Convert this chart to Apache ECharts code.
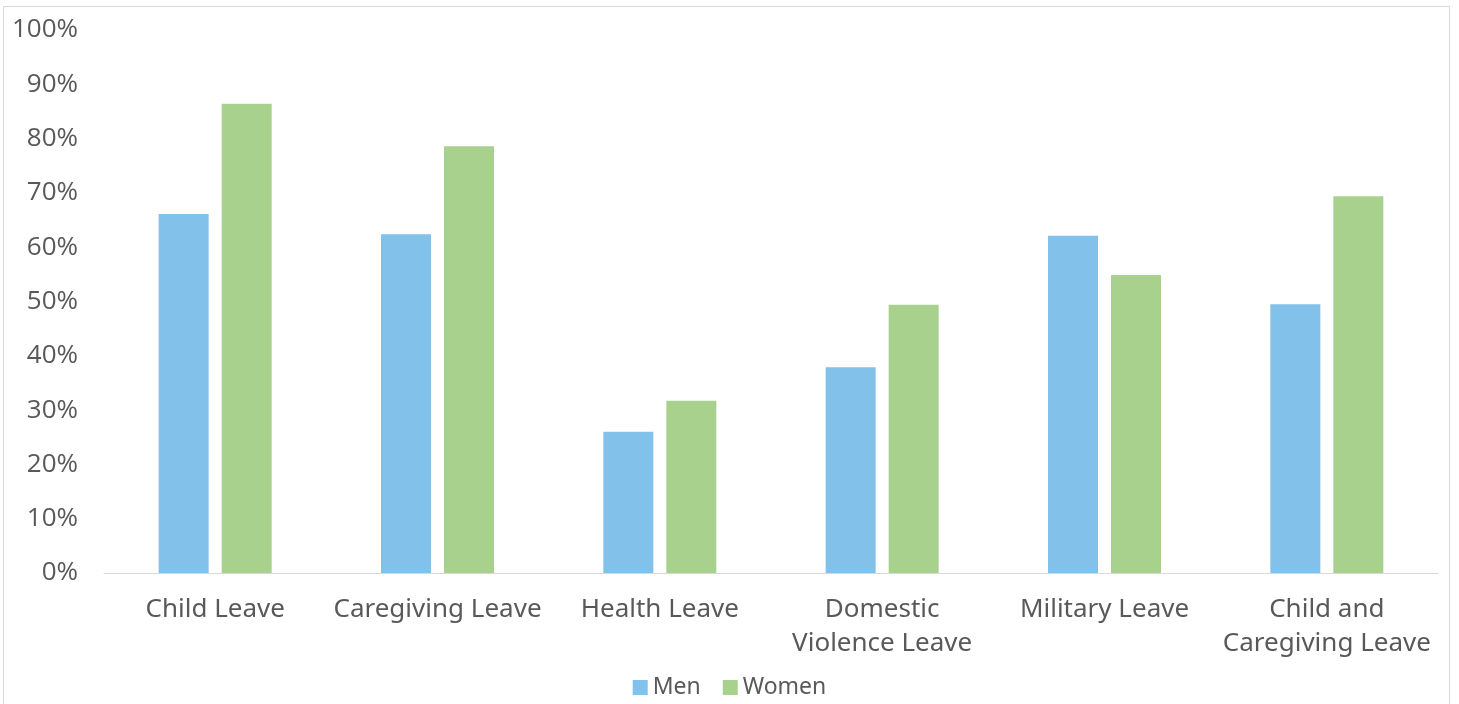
<!DOCTYPE html>
<html>
<head>
<meta charset="utf-8">
<script src="https://cdn.jsdelivr.net/npm/echarts@6/dist/echarts.min.js"></script>
<style>
  html, body { margin: 0; padding: 0; background: #fff; }
  #frame { position: absolute; left: 3px; top: 6px; width: 1447px; height: 710px; border: 1px solid #d9d9d9; box-sizing: border-box; }
  #chart { position: absolute; left: 0; top: 0; width: 1459px; height: 704px; }
</style>
</head>
<body>
<div id="frame"></div>
<div id="chart"></div>
<script>
// Share of respondents, by type of leave
const categories = ['Child Leave', 'Caregiving Leave', 'Health Leave', 'Domestic\nViolence Leave', 'Military Leave', 'Child and\nCaregiving Leave'];
const men   = [66.1, 62.4, 26.0, 37.9, 62.1, 49.5];
const women = [86.4, 78.6, 31.7, 49.4, 54.9, 69.4];
const seriesNames = ['Men', 'Women'];
const colors = ['#82c1ea', '#a9d18e'];

const textColor = '#595959';
const chart = echarts.init(document.getElementById('chart'));
chart.setOption({
  animation: false,
  grid: { left: 104, right: 21, top: 30, bottom: 131 },
  legend: {
    data: seriesNames,
    bottom: 0,
    left: 'center',
    itemWidth: 15,
    itemHeight: 15,
    itemGap: 22,
    icon: 'rect',
    textStyle: { color: textColor, fontSize: 23, fontFamily: 'Noto Sans' }
  },
  xAxis: {
    type: 'category',
    data: categories,
    axisLine: { lineStyle: { color: '#d9d9d9', width: 1 } },
    axisTick: { show: false },
    axisLabel: { color: textColor, fontSize: 26, fontFamily: 'Noto Sans', margin: 20, lineHeight: 34, interval: 0 }
  },
  yAxis: {
    type: 'value',
    min: 0, max: 100, interval: 10,
    splitLine: { show: false },
    axisLine: { show: false },
    axisTick: { show: false },
    axisLabel: { color: textColor, fontSize: 26, fontFamily: 'Open Sans', margin: 26, formatter: '{value}%' }
  },
  series: [
    { name: seriesNames[0], type: 'bar', data: men, itemStyle: { color: colors[0] }, barWidth: 50, barGap: '26%' },
    { name: seriesNames[1], type: 'bar', data: women, itemStyle: { color: colors[1] }, barWidth: 50, barGap: '26%' }
  ]
});
</script>
</body>
</html>
